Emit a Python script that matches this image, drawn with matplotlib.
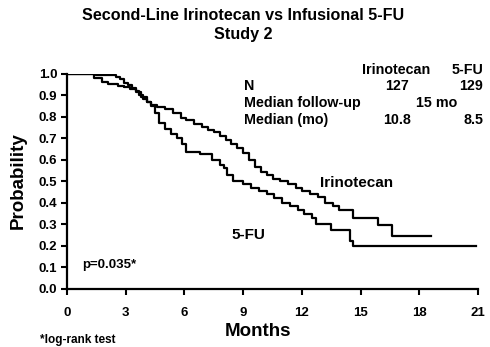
import matplotlib
matplotlib.use("Agg")
import matplotlib.pyplot as plt
import numpy as np

plt.rcParams['font.family'] = ['Liberation Sans', 'DejaVu Sans']
plt.rcParams['font.weight'] = 'bold'

# ---- data ----
iri_times = [0, 1.5, 2.5, 2.7, 2.9, 3.1, 3.3, 3.5, 3.7, 3.9, 4.1, 4.3, 4.6, 5.0, 5.4, 5.8,
             6.1, 6.5, 6.9, 7.2, 7.5, 7.8, 8.1, 8.4, 8.7, 9.0, 9.3, 9.6, 9.9, 10.2, 10.5,
             10.9, 11.3, 11.7, 12.0, 12.4, 12.8, 13.2, 13.6, 13.9, 14.6, 15.9, 16.6]
iri_surv = [1.0, 0.995, 0.985, 0.975, 0.96, 0.95, 0.935, 0.92, 0.90, 0.885, 0.87, 0.855,
            0.845, 0.835, 0.82, 0.795, 0.785, 0.765, 0.755, 0.74, 0.73, 0.71, 0.69, 0.675,
            0.655, 0.63, 0.60, 0.565, 0.545, 0.53, 0.51, 0.50, 0.485, 0.47, 0.455, 0.44,
            0.425, 0.40, 0.385, 0.365, 0.33, 0.295, 0.245]
iri_end = 18.6

fu_times = [0, 1.4, 1.8, 2.1, 2.6, 2.9, 3.2, 3.5, 3.8, 4.1, 4.3, 4.5, 4.7, 5.0, 5.3, 5.6,
            5.9, 6.1, 6.8, 7.4, 7.8, 8.0, 8.2, 8.5, 9.0, 9.4, 9.8, 10.2, 10.6, 11.0, 11.4,
            11.8, 12.1, 12.5, 12.7, 13.5, 14.45, 14.6]
fu_surv = [1.0, 0.98, 0.965, 0.955, 0.945, 0.94, 0.93, 0.915, 0.895, 0.87, 0.85, 0.82,
           0.77, 0.745, 0.72, 0.70, 0.675, 0.635, 0.625, 0.60, 0.575, 0.56, 0.53, 0.50,
           0.485, 0.47, 0.455, 0.44, 0.42, 0.40, 0.385, 0.365, 0.345, 0.33, 0.30, 0.275,
           0.22, 0.20]
fu_end = 20.9

x_ticks = [0, 3, 6, 9, 12, 15, 18, 21]
y_ticks = [0.0, 0.1, 0.2, 0.3, 0.4, 0.5, 0.6, 0.7, 0.8, 0.9, 1.0]

table_header = ["Irinotecan", "5-FU"]
table_n = ["127", "129"]
table_followup = "15 mo"
table_median = ["10.8", "8.5"]

# ---- figure ----
fig = plt.figure(figsize=(4.9, 3.47), dpi=100)
ax = fig.add_axes([67/490, 1 - 288.5/347, (478 - 67)/490, (288.5 - 74)/347])

ax.step(iri_times + [iri_end], iri_surv + [iri_surv[-1]], where='post', color='black', lw=1.6)
ax.step(fu_times + [fu_end], fu_surv + [fu_surv[-1]], where='post', color='black', lw=1.6)

ax.set_xlim(0, 21)
ax.set_ylim(0, 1.0)
ax.set_xticks(x_ticks)
ax.set_xticklabels([str(t) for t in x_ticks], fontsize=9.5, fontweight='bold')
ax.set_yticks(y_ticks)
ax.set_yticklabels([f"{v:.1f}" for v in y_ticks], fontsize=9.5, fontweight='bold')
for s in ['top', 'right']:
    ax.spines[s].set_visible(False)
for s in ['left', 'bottom']:
    ax.spines[s].set_linewidth(1.6)
ax.tick_params(axis='both', direction='out', length=4, width=1.5)
ax.tick_params(axis='x', pad=9)
ax.tick_params(axis='y', pad=3)

fig.text(258/490, 1 - 332/347, "Months", ha='center', va='center', fontsize=13.5, fontweight='bold')
fig.text(18/490, 1 - 181/347, "Probability", ha='center', va='center', fontsize=13.5,
         fontweight='bold', rotation=90)

# titles
fig.text(243/490, 1 - 15/347, "Second-Line Irinotecan vs Infusional 5-FU", ha='center', va='center',
         fontsize=11.6, fontweight='bold')
fig.text(243/490, 1 - 35/347, "Study 2", ha='center', va='center', fontsize=11.6, fontweight='bold')

# table
def ftxt(x, y, s, ha='left', size=10.3):
    fig.text(x/490, 1 - y/347, s, ha=ha, va='center', fontsize=size, fontweight='bold')

ftxt(396, 70, table_header[0], ha='center')
ftxt(483, 70, table_header[1], ha='right')
ftxt(244, 86, "N")
ftxt(397, 86, table_n[0], ha='center')
ftxt(483, 86, table_n[1], ha='right')
ftxt(244, 103, "Median follow-up")
ftxt(437, 103, table_followup, ha='center')
ftxt(244, 120, "Median (mo)")
ftxt(397, 120, table_median[0], ha='center')
ftxt(483, 120, table_median[1], ha='right')

ftxt(320, 183.5, "Irinotecan", size=11)
ftxt(231, 235, "5-FU", size=11)
ftxt(82, 265, "p=0.035*", size=9.5)
ftxt(115, 340, "*log-rank test", ha='right', size=8.5)

fig.savefig("out.png", dpi=100)
